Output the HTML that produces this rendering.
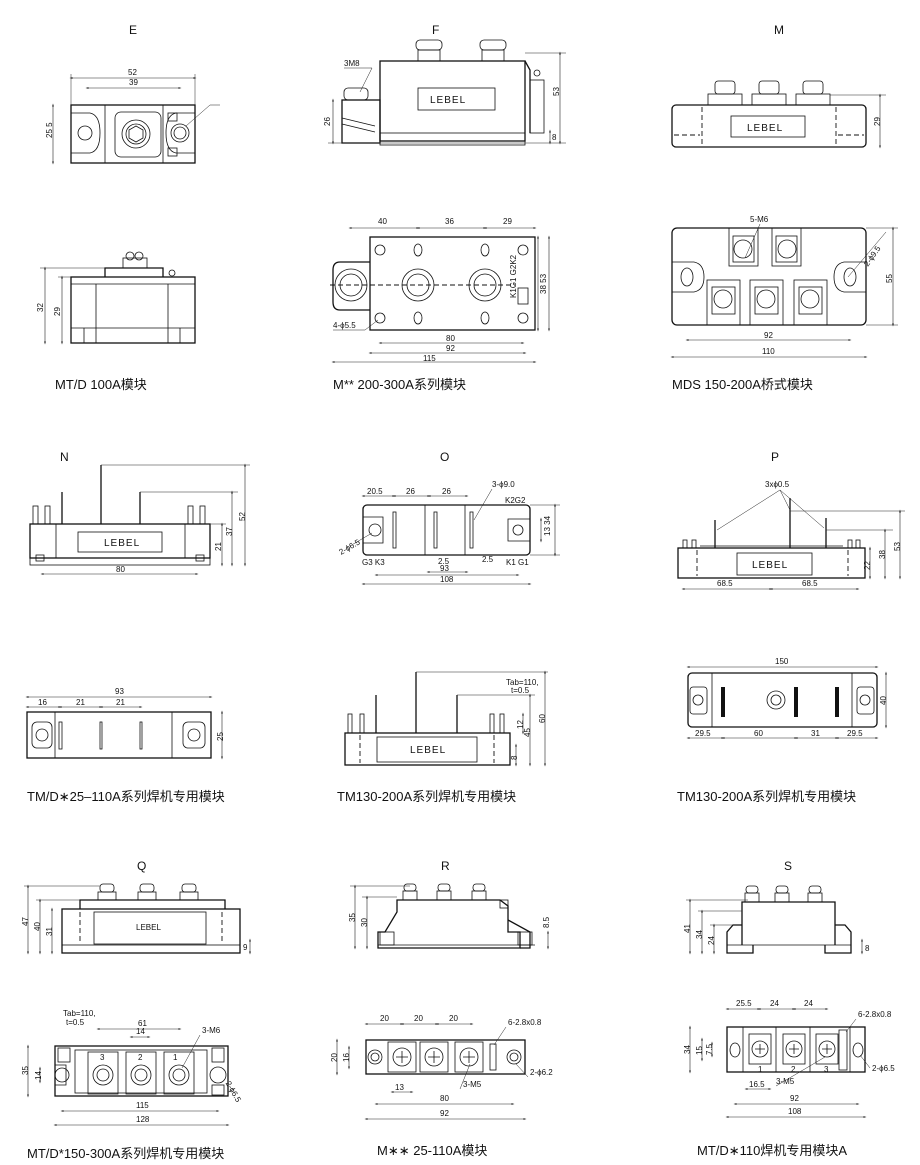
<!DOCTYPE html>
<html><head><meta charset="utf-8"><style>
html,body{margin:0;padding:0;background:#fff}
svg{display:block}
.b{fill:none;stroke:#111;stroke-width:1.3}
.t{fill:none;stroke:#111;stroke-width:0.8}
.d{stroke:#222;stroke-width:0.6;fill:none;marker-start:url(#a);marker-end:url(#a)}
.e{stroke:#222;stroke-width:0.5;fill:none}
.dash{stroke:#111;stroke-width:0.9;stroke-dasharray:5 3;fill:none}
text{font-family:"Liberation Sans","Noto Sans CJK SC",sans-serif;fill:#111}
.s{font-size:8px}
.l{font-size:12px}
.c{font-size:13px}
.g{font-size:10px;letter-spacing:1px}
</style></head><body>
<svg width="920" height="1165" viewBox="0 0 920 1165" xmlns="http://www.w3.org/2000/svg">
<defs><marker id="a" viewBox="0 0 10 10" refX="5" refY="5" markerWidth="5" markerHeight="5" orient="auto-start-reverse"><path d="M0,2 L10,5 L0,8z" fill="#222"/></marker></defs>

<!-- ===== E ===== -->
<text class="l" x="129" y="34">E</text>
<rect class="b" x="71" y="105" width="124" height="58"/>
<line class="t" x1="105" y1="105" x2="105" y2="163"/><line class="t" x1="163" y1="105" x2="163" y2="163"/>
<path class="t" d="M71,113 H90 Q100,115 100,133 Q100,151 90,153 H71"/>
<circle class="t" cx="85" cy="133" r="7"/>
<path class="t" d="M195,113 H176 Q166,115 166,133 Q166,151 176,153 H195"/>
<circle class="t" cx="180" cy="133" r="9"/><circle class="t" cx="180" cy="133" r="6"/>
<rect class="t" x="115" y="112" width="46" height="45" rx="6"/>
<circle class="t" cx="136" cy="134" r="14"/><circle class="t" cx="136" cy="134" r="10"/>
<polygon class="t" points="136,126 143,130 143,138 136,142 129,138 129,130"/>
<rect class="t" x="168" y="113" width="9" height="8"/><rect class="t" x="168" y="148" width="9" height="8"/>
<line class="d" x1="71" y1="78" x2="195" y2="78"/><text class="s" x="128" y="75">52</text>
<line class="d" x1="87" y1="88" x2="180" y2="88"/><text class="s" x="129" y="85">39</text>
<line class="e" x1="71" y1="74" x2="71" y2="105"/><line class="e" x1="195" y1="74" x2="195" y2="105"/>
<line class="d" x1="53" y1="105" x2="53" y2="163"/><text class="s" x="42" y="140" transform="rotate(-90 46 134)">25 5</text>
<line class="e" x1="186" y1="126" x2="210" y2="105"/><line class="e" x1="210" y1="105" x2="220" y2="105"/>
<!-- E bottom -->
<rect class="b" x="71" y="277" width="124" height="66"/>
<path class="b" d="M105,277 V268 H163 V277"/>
<rect class="t" x="123" y="258" width="24" height="10"/><circle class="t" cx="130" cy="256" r="4"/><circle class="t" cx="139" cy="256" r="4"/>
<circle class="t" cx="172" cy="273" r="3"/>
<line class="t" x1="71" y1="284" x2="195" y2="284"/>
<line class="t" x1="96" y1="284" x2="96" y2="343"/><line class="t" x1="168" y1="284" x2="168" y2="343"/>
<line class="t" x1="71" y1="328" x2="195" y2="328"/>
<line class="t" x1="84" y1="328" x2="84" y2="343"/><line class="t" x1="180" y1="328" x2="180" y2="343"/>
<line class="d" x1="45" y1="268" x2="45" y2="343"/><text class="s" x="33" y="308" transform="rotate(-90 40 305)">32</text>
<line class="d" x1="62" y1="277" x2="62" y2="343"/><text class="s" x="52" y="312" transform="rotate(-90 58 310)">29</text>
<line class="e" x1="40" y1="268" x2="105" y2="268"/><line class="e" x1="58" y1="277" x2="71" y2="277"/>
<text class="c" x="55" y="389">MT/D  100A模块</text>

<!-- ===== F ===== -->
<text class="l" x="432" y="34">F</text>
<rect class="b" x="380" y="61" width="145" height="80"/>
<path class="b" d="M525,61 L530,70 V133"/>
<rect class="t" x="530" y="80" width="14" height="53"/><circle class="t" cx="537" cy="73" r="3"/>
<rect class="b" x="342" y="100" width="38" height="43"/>
<path class="t" d="M342,118 L375,126 M342,124 L375,132"/>
<rect class="t" x="380" y="133" width="145" height="12"/>
<rect class="t" x="418" y="88" width="77" height="22"/><text class="g" x="430" y="103">LEBEL</text>
<rect class="t" x="418" y="50" width="22" height="11"/><rect class="t" x="482" y="50" width="22" height="11"/>
<rect class="t" x="416" y="40" width="26" height="10" rx="4"/><rect class="t" x="480" y="40" width="26" height="10" rx="4"/>
<rect class="t" x="344" y="88" width="24" height="12" rx="4"/>
<text class="s" x="344" y="66">3M8</text><line class="e" x1="344" y1="68" x2="372" y2="68"/><line class="e" x1="372" y1="68" x2="360" y2="92"/>
<line class="d" x1="560" y1="53" x2="560" y2="143"/><line class="e" x1="525" y1="53" x2="566" y2="53"/><text class="s" x="550" y="93" transform="rotate(-90 556 90)">53</text>
<line class="d" x1="550" y1="131" x2="550" y2="143"/><text class="s" x="552" y="140">8</text>
<line class="d" x1="333" y1="100" x2="333" y2="143"/><text class="s" x="322" y="124" transform="rotate(-90 327 121)">26</text>
<line class="e" x1="328" y1="143" x2="566" y2="143"/>
<!-- F bottom -->
<rect class="b" x="370" y="237" width="165" height="93"/>
<path class="b" d="M370,262 H340 Q333,262 333,270 V302 Q333,310 340,310 H370"/>
<path class="t" d="M370,237 V262 M370,310 V330"/>
<circle class="t" cx="351" cy="285" r="16"/><circle class="t" cx="351" cy="285" r="11"/>
<circle class="t" cx="418" cy="285" r="16"/><circle class="t" cx="418" cy="285" r="11"/>
<circle class="t" cx="485" cy="285" r="16"/><circle class="t" cx="485" cy="285" r="11"/>
<circle class="t" cx="380" cy="250" r="5"/><circle class="t" cx="380" cy="318" r="5"/>
<circle class="t" cx="523" cy="250" r="5"/><circle class="t" cx="523" cy="318" r="5"/>
<ellipse class="t" cx="418" cy="250" rx="4" ry="6"/><ellipse class="t" cx="418" cy="318" rx="4" ry="6"/>
<ellipse class="t" cx="485" cy="250" rx="4" ry="6"/><ellipse class="t" cx="485" cy="318" rx="4" ry="6"/>
<line class="dash" x1="330" y1="285" x2="515" y2="285"/>
<rect class="t" x="518" y="288" width="10" height="16"/>
<text class="s" x="498" y="300" transform="rotate(-90 506 290)">K1G1  G2K2</text>
<line class="d" x1="350" y1="228" x2="418" y2="228"/><text class="s" x="378" y="224">40</text>
<line class="d" x1="418" y1="228" x2="485" y2="228"/><text class="s" x="445" y="224">36</text>
<line class="d" x1="485" y1="228" x2="535" y2="228"/><text class="s" x="503" y="224">29</text>
<line class="d" x1="380" y1="343" x2="523" y2="343"/><text class="s" x="446" y="341">80</text>
<line class="d" x1="370" y1="353" x2="525" y2="353"/><text class="s" x="446" y="351">92</text>
<line class="d" x1="333" y1="362" x2="535" y2="362"/><text class="s" x="423" y="361">115</text>
<line class="d" x1="538" y1="237" x2="538" y2="330"/><line class="d" x1="549" y1="237" x2="549" y2="330"/>
<text class="s" x="530" y="290" transform="rotate(-90 540 284)">38 53</text>
<text class="s" x="333" y="328">4-ϕ5.5</text><line class="e" x1="333" y1="330" x2="365" y2="330"/><line class="e" x1="365" y1="330" x2="378" y2="320"/>
<text class="c" x="333" y="389">M**  200-300A系列模块</text>

<!-- ===== M ===== -->
<text class="l" x="774" y="34">M</text>
<rect class="b" x="672" y="105" width="194" height="42" rx="4"/>
<rect class="t" x="731" y="116" width="74" height="21"/><text class="g" x="747" y="131">LEBEL</text>
<rect class="t" x="708" y="94" width="34" height="11"/><rect class="t" x="752" y="94" width="34" height="11"/><rect class="t" x="796" y="94" width="34" height="11"/>
<rect class="t" x="715" y="81" width="20" height="13" rx="3"/><rect class="t" x="759" y="81" width="20" height="13" rx="3"/><rect class="t" x="803" y="81" width="20" height="13" rx="3"/>
<line class="dash" x1="702" y1="107" x2="702" y2="145"/><line class="dash" x1="836" y1="107" x2="836" y2="145"/>
<line class="dash" x1="674" y1="135" x2="700" y2="135"/><line class="dash" x1="838" y1="135" x2="864" y2="135"/>
<line class="d" x1="880" y1="95" x2="880" y2="147"/><text class="s" x="872" y="124" transform="rotate(-90 877 121)">29</text>
<line class="e" x1="830" y1="95" x2="886" y2="95"/>
<!-- MDS -->
<rect class="b" x="672" y="228" width="194" height="97" rx="5"/>
<path class="t" d="M672,262 H694 Q704,264 704,277 Q704,290 694,292 H672"/>
<path class="t" d="M866,262 H844 Q834,264 834,277 Q834,290 844,292 H866"/>
<ellipse class="t" cx="687" cy="277" rx="6" ry="9"/><ellipse class="t" cx="850" cy="277" rx="6" ry="9"/>
<g>
<rect class="t" x="729" y="228" width="29" height="38"/><rect class="t" x="733" y="236" width="21" height="26"/><circle class="t" cx="743" cy="249" r="9"/>
<rect class="t" x="772" y="228" width="29" height="38"/><rect class="t" x="776" y="236" width="21" height="26"/><circle class="t" cx="787" cy="249" r="9"/>
<rect class="t" x="707" y="280" width="33" height="45"/><rect class="t" x="712" y="287" width="23" height="27"/><circle class="t" cx="723" cy="299" r="9"/>
<rect class="t" x="750" y="280" width="33" height="45"/><rect class="t" x="755" y="287" width="23" height="27"/><circle class="t" cx="766" cy="299" r="9"/>
<rect class="t" x="794" y="280" width="33" height="45"/><rect class="t" x="799" y="287" width="23" height="27"/><circle class="t" cx="810" cy="299" r="9"/>
</g>
<text class="s" x="750" y="222">5-M6</text><line class="e" x1="760" y1="224" x2="745" y2="258"/>
<text class="s" x="858" y="268" transform="rotate(-55 862 258)">2-ϕ9.5</text><line class="e" x1="848" y1="277" x2="886" y2="232"/>
<line class="d" x1="893" y1="228" x2="893" y2="325"/><text class="s" x="883" y="280" transform="rotate(-90 889 277)">55</text>
<line class="e" x1="866" y1="228" x2="898" y2="228"/><line class="e" x1="866" y1="325" x2="898" y2="325"/>
<line class="d" x1="687" y1="340" x2="850" y2="340"/><text class="s" x="764" y="338">92</text>
<line class="d" x1="672" y1="357" x2="866" y2="357"/><text class="s" x="762" y="354">110</text>
<text class="c" x="672" y="389">MDS  150-200A桥式模块</text>

<!-- ===== N ===== -->
<text class="l" x="60" y="461">N</text>
<rect class="b" x="30" y="524" width="180" height="34"/>
<line class="t" x1="56" y1="524" x2="56" y2="558"/><line class="t" x1="185" y1="524" x2="185" y2="558"/>
<rect class="t" x="30" y="558" width="180" height="7"/>
<rect class="t" x="36" y="555" width="8" height="6"/><rect class="t" x="196" y="555" width="8" height="6"/>
<rect class="t" x="78" y="532" width="84" height="20"/><text class="g" x="104" y="546">LEBEL</text>
<line class="b" x1="101" y1="465" x2="101" y2="524"/><line class="b" x1="62" y1="492" x2="62" y2="524"/><line class="b" x1="140" y1="492" x2="140" y2="524"/>
<rect class="t" x="33" y="506" width="5" height="18"/><rect class="t" x="45" y="506" width="5" height="18"/>
<rect class="t" x="188" y="506" width="5" height="18"/><rect class="t" x="200" y="506" width="5" height="18"/>
<line class="e" x1="101" y1="465" x2="250" y2="465"/><line class="e" x1="140" y1="492" x2="238" y2="492"/><line class="e" x1="205" y1="524" x2="226" y2="524"/>
<line class="d" x1="222" y1="524" x2="222" y2="565"/><text class="s" x="212" y="548" transform="rotate(-90 218 545)">21</text>
<line class="d" x1="232" y1="492" x2="232" y2="565"/><text class="s" x="223" y="533" transform="rotate(-90 229 530)">37</text>
<line class="d" x1="245" y1="465" x2="245" y2="565"/><text class="s" x="236" y="518" transform="rotate(-90 242 515)">52</text>
<line class="d" x1="42" y1="574" x2="197" y2="574"/><text class="s" x="116" y="572">80</text>

<!-- ===== O ===== -->
<text class="l" x="440" y="461">O</text>
<rect class="b" x="363" y="505" width="167" height="50" rx="4"/>
<path class="t" d="M363,517 H383 V543 H363"/><circle class="t" cx="375" cy="530" r="6"/>
<path class="t" d="M530,519 H508 V541 H530"/><circle class="t" cx="518" cy="530" r="5"/>
<rect class="t" x="393" y="512" width="3" height="36" fill="#111"/><rect class="t" x="434" y="512" width="3" height="36" fill="#111"/><rect class="t" x="470" y="512" width="3" height="36" fill="#111"/>
<line class="t" x1="425" y1="505" x2="425" y2="555"/><line class="t" x1="465" y1="505" x2="465" y2="555"/>
<line class="d" x1="363" y1="496" x2="394" y2="496"/><text class="s" x="367" y="494">20.5</text>
<line class="d" x1="394" y1="496" x2="429" y2="496"/><text class="s" x="406" y="494">26</text>
<line class="d" x1="429" y1="496" x2="467" y2="496"/><text class="s" x="442" y="494">26</text>
<text class="s" x="492" y="487">3-ϕ9.0</text><line class="e" x1="492" y1="489" x2="474" y2="520"/>
<text class="s" x="505" y="503">K2G2</text><text class="s" x="362" y="565">G3 K3</text><text class="s" x="506" y="565">K1 G1</text>
<text class="s" x="338" y="552" transform="rotate(-30 345 548)">2-ϕ6.5</text><line class="e" x1="350" y1="546" x2="372" y2="533"/>
<text class="s" x="438" y="564">2.5</text><text class="s" x="482" y="562">2.5</text>
<line class="d" x1="428" y1="572" x2="467" y2="572"/><text class="s" x="440" y="571">93</text>
<line class="d" x1="376" y1="575" x2="518" y2="575"/>
<line class="d" x1="363" y1="584" x2="530" y2="584"/><text class="s" x="440" y="582">108</text>
<line class="d" x1="555" y1="505" x2="555" y2="555"/><line class="d" x1="541" y1="519" x2="541" y2="541"/>
<text class="s" x="540" y="534" transform="rotate(-90 546 530)">13 34</text>
<line class="e" x1="530" y1="505" x2="560" y2="505"/><line class="e" x1="530" y1="555" x2="560" y2="555"/>

<!-- ===== P ===== -->
<text class="l" x="771" y="461">P</text>
<rect class="b" x="678" y="548" width="187" height="30"/>
<rect class="t" x="737" y="553" width="75" height="22"/><text class="g" x="752" y="568">LEBEL</text>
<line class="dash" x1="697" y1="550" x2="697" y2="576"/><line class="dash" x1="848" y1="550" x2="848" y2="576"/>
<line class="b" x1="715" y1="520" x2="715" y2="548"/><line class="b" x1="790" y1="498" x2="790" y2="548"/><line class="b" x1="826" y1="518" x2="826" y2="548"/>
<rect class="t" x="683" y="540" width="4" height="8"/><rect class="t" x="692" y="540" width="4" height="8"/>
<rect class="t" x="848" y="540" width="4" height="8"/><rect class="t" x="856" y="540" width="4" height="8"/>
<line class="t" x1="700" y1="546" x2="843" y2="546"/>
<text class="s" x="765" y="487">3xϕ0.5</text>
<line class="e" x1="780" y1="490" x2="717" y2="530"/><line class="e" x1="780" y1="490" x2="790" y2="510"/><line class="e" x1="780" y1="490" x2="824" y2="528"/>
<line class="e" x1="790" y1="511" x2="905" y2="511"/><line class="e" x1="826" y1="530" x2="893" y2="530"/>
<line class="d" x1="870" y1="548" x2="870" y2="578"/><text class="s" x="861" y="567" transform="rotate(-90 867 564)">22</text>
<line class="d" x1="885" y1="530" x2="885" y2="578"/><text class="s" x="876" y="556" transform="rotate(-90 882 553)">38</text>
<line class="d" x1="900" y1="511" x2="900" y2="578"/><text class="s" x="891" y="548" transform="rotate(-90 897 545)">53</text>
<line class="d" x1="683" y1="589" x2="771" y2="589"/><text class="s" x="717" y="586">68.5</text>
<line class="d" x1="771" y1="589" x2="858" y2="589"/><text class="s" x="802" y="586">68.5</text>

<!-- ===== TM/D top ===== -->
<rect class="b" x="27" y="712" width="184" height="46"/>
<line class="t" x1="55" y1="712" x2="55" y2="758"/><line class="t" x1="172" y1="712" x2="172" y2="758"/>
<rect class="t" x="32" y="722" width="20" height="26" rx="5"/><circle class="t" cx="42" cy="735" r="6"/>
<rect class="t" x="183" y="722" width="22" height="26" rx="5"/><circle class="t" cx="194" cy="735" r="6"/>
<rect class="t" x="59" y="722" width="3" height="27" fill="#111"/><rect class="t" x="100" y="722" width="2" height="27" fill="#111"/><rect class="t" x="140" y="722" width="2" height="27" fill="#111"/>
<line class="d" x1="27" y1="697" x2="211" y2="697"/><text class="s" x="115" y="694">93</text>
<line class="d" x1="27" y1="707" x2="60" y2="707"/><text class="s" x="38" y="705">16</text>
<line class="d" x1="60" y1="707" x2="101" y2="707"/><text class="s" x="76" y="705">21</text>
<line class="d" x1="101" y1="707" x2="141" y2="707"/><text class="s" x="116" y="705">21</text>
<line class="d" x1="222" y1="712" x2="222" y2="758"/><text class="s" x="214" y="738" transform="rotate(-90 220 735)">25</text>
<text class="c" x="27" y="801">TM/D∗25–110A系列焊机专用模块</text>

<!-- ===== TM130 side ===== -->
<rect class="b" x="345" y="733" width="165" height="32"/>
<rect class="t" x="377" y="737" width="100" height="25"/><text class="g" x="410" y="753">LEBEL</text>
<line class="dash" x1="360" y1="735" x2="360" y2="763"/><line class="dash" x1="494" y1="735" x2="494" y2="763"/>
<line class="b" x1="416" y1="672" x2="416" y2="733"/><line class="b" x1="376" y1="695" x2="376" y2="733"/><line class="b" x1="457" y1="695" x2="457" y2="733"/>
<rect class="t" x="348" y="714" width="4" height="19"/><rect class="t" x="360" y="714" width="4" height="19"/>
<rect class="t" x="490" y="714" width="4" height="19"/><rect class="t" x="500" y="714" width="4" height="19"/>
<line class="e" x1="416" y1="672" x2="548" y2="672"/><line class="e" x1="457" y1="695" x2="535" y2="695"/>
<text class="s" x="506" y="685">Tab=110,</text><text class="s" x="511" y="693">t=0.5</text>
<line class="d" x1="523" y1="714" x2="523" y2="733"/><text class="s" x="515" y="727" transform="rotate(-90 520 724)">12</text>
<line class="d" x1="530" y1="695" x2="530" y2="765"/><text class="s" x="522" y="735" transform="rotate(-90 527 732)">45</text>
<line class="d" x1="545" y1="672" x2="545" y2="765"/><text class="s" x="537" y="721" transform="rotate(-90 542 718)">60</text>
<line class="d" x1="516" y1="745" x2="516" y2="765"/><text class="s" x="509" y="758" transform="rotate(-90 514 755)">8</text>
<text class="c" x="337" y="801">TM130-200A系列焊机专用模块</text>

<!-- ===== TM130 top ===== -->
<rect class="b" x="688" y="673" width="189" height="54" rx="4"/>
<line class="t" x1="712" y1="673" x2="712" y2="727"/><line class="t" x1="852" y1="673" x2="852" y2="727"/>
<rect class="t" x="690" y="687" width="17" height="27" rx="3"/><circle class="t" cx="698" cy="700" r="5"/>
<rect class="t" x="857" y="687" width="17" height="27" rx="3"/><circle class="t" cx="865" cy="700" r="5"/>
<circle class="t" cx="776" cy="700" r="9"/><circle class="t" cx="776" cy="700" r="5"/>
<rect x="721" y="687" width="4" height="30" fill="#111"/><rect x="794" y="687" width="4" height="30" fill="#111"/><rect x="835" y="687" width="4" height="30" fill="#111"/>
<line class="d" x1="688" y1="667" x2="877" y2="667"/><text class="s" x="775" y="664">150</text>
<line class="d" x1="688" y1="738" x2="723" y2="738"/><text class="s" x="695" y="736">29.5</text>
<line class="d" x1="723" y1="738" x2="796" y2="738"/><text class="s" x="754" y="736">60</text>
<line class="d" x1="796" y1="738" x2="837" y2="738"/><text class="s" x="811" y="736">31</text>
<line class="d" x1="837" y1="738" x2="877" y2="738"/><text class="s" x="847" y="736">29.5</text>
<line class="d" x1="886" y1="673" x2="886" y2="727"/><text class="s" x="878" y="703" transform="rotate(-90 883 700)">40</text>
<text class="c" x="677" y="801">TM130-200A系列焊机专用模块</text>

<!-- ===== Q ===== -->
<text class="l" x="137" y="870">Q</text>
<rect class="b" x="62" y="909" width="178" height="44"/>
<path class="b" d="M80,909 V900 H225 V909"/>
<rect class="t" x="94" y="912" width="112" height="32"/><text class="s" x="136" y="930">LEBEL</text>
<rect class="t" x="62" y="945" width="178" height="8"/>
<rect class="t" x="98" y="892" width="18" height="8"/><rect class="t" x="138" y="892" width="18" height="8"/><rect class="t" x="180" y="892" width="18" height="8"/>
<rect class="t" x="100" y="884" width="14" height="8" rx="3"/><rect class="t" x="140" y="884" width="14" height="8" rx="3"/><rect class="t" x="182" y="884" width="14" height="8" rx="3"/>
<line class="dash" x1="80" y1="912" x2="80" y2="942"/><line class="dash" x1="222" y1="912" x2="222" y2="942"/>
<line class="d" x1="28" y1="886" x2="28" y2="953"/><text class="s" x="20" y="924" transform="rotate(-90 25 921)">47</text>
<line class="d" x1="40" y1="900" x2="40" y2="953"/><text class="s" x="32" y="929" transform="rotate(-90 37 926)">40</text>
<line class="d" x1="52" y1="909" x2="52" y2="953"/><text class="s" x="44" y="934" transform="rotate(-90 49 931)">31</text>
<line class="e" x1="24" y1="886" x2="100" y2="886"/><line class="e" x1="36" y1="900" x2="80" y2="900"/>
<line class="d" x1="250" y1="940" x2="250" y2="953"/><text class="s" x="243" y="950">9</text>
<!-- Q bottom -->
<rect class="b" x="55" y="1046" width="173" height="50"/>
<rect class="t" x="75" y="1050" width="132" height="43"/>
<path class="t" d="M55,1065 H66 V1085 H55"/><circle class="t" cx="62" cy="1075" r="7"/>
<circle class="t" cx="218" cy="1075" r="8"/>
<rect class="t" x="58" y="1048" width="12" height="14"/><rect class="t" x="212" y="1048" width="12" height="14"/><rect class="t" x="212" y="1085" width="12" height="10"/>
<rect class="t" x="88" y="1052" width="30" height="42"/><circle class="t" cx="103" cy="1075" r="10"/><circle class="t" cx="103" cy="1075" r="6"/>
<rect class="t" x="126" y="1052" width="30" height="42"/><circle class="t" cx="141" cy="1075" r="10"/><circle class="t" cx="141" cy="1075" r="6"/>
<rect class="t" x="164" y="1052" width="30" height="42"/><circle class="t" cx="179" cy="1075" r="10"/><circle class="t" cx="179" cy="1075" r="6"/>
<text class="s" x="100" y="1060">3</text><text class="s" x="138" y="1060">2</text><text class="s" x="173" y="1060">1</text>
<text class="s" x="63" y="1016">Tab=110,</text><text class="s" x="66" y="1025">t=0.5</text>
<line class="d" x1="98" y1="1029" x2="180" y2="1029"/><text class="s" x="138" y="1026">61</text>
<line class="d" x1="131" y1="1037" x2="149" y2="1037"/><text class="s" x="136" y="1034">14</text>
<text class="s" x="202" y="1033">3-M6</text><line class="e" x1="200" y1="1035" x2="182" y2="1068"/>
<text class="s" x="226" y="1088" transform="rotate(60 230 1085)">2-ϕ6.5</text>
<line class="d" x1="62" y1="1111" x2="218" y2="1111"/><text class="s" x="136" y="1108">115</text>
<line class="d" x1="55" y1="1125" x2="228" y2="1125"/><text class="s" x="136" y="1122">128</text>
<line class="d" x1="28" y1="1046" x2="28" y2="1096"/><text class="s" x="20" y="1073" transform="rotate(-90 25 1070)">35</text>
<line class="d" x1="40" y1="1068" x2="40" y2="1082"/><text class="s" x="33" y="1080" transform="rotate(-90 37 1076)">14</text>
<text class="c" x="27" y="1158">MT/D*150-300A系列焊机专用模块</text>

<!-- ===== R ===== -->
<text class="l" x="441" y="870">R</text>
<path class="b" d="M397,900 H500 L508,906 V932 L520,932 V948 H378 V932 H385 L397,912 Z"/>
<line class="t" x1="378" y1="945" x2="535" y2="945"/>
<path class="b" d="M508,920 L530,932 V948 H520"/>
<rect class="t" x="380" y="932" width="14" height="13"/><rect class="t" x="518" y="932" width="14" height="13"/>
<rect class="t" x="403" y="891" width="14" height="9"/><rect class="t" x="437" y="891" width="14" height="9"/><rect class="t" x="472" y="891" width="14" height="9"/>
<rect class="t" x="404" y="884" width="12" height="7" rx="3"/><rect class="t" x="438" y="884" width="12" height="7" rx="3"/><rect class="t" x="473" y="884" width="12" height="7" rx="3"/>
<rect class="t" x="500" y="900" width="8" height="8"/>
<line class="d" x1="355" y1="886" x2="355" y2="948"/><text class="s" x="347" y="920" transform="rotate(-90 352 917)">35</text>
<line class="d" x1="367" y1="897" x2="367" y2="948"/><text class="s" x="359" y="925" transform="rotate(-90 364 922)">30</text>
<line class="e" x1="350" y1="886" x2="410" y2="886"/><line class="e" x1="362" y1="897" x2="397" y2="897"/>
<line class="d" x1="548" y1="932" x2="548" y2="948"/><text class="s" x="540" y="925" transform="rotate(-90 546 922)">8.5</text>
<!-- R bottom -->
<rect class="b" x="366" y="1040" width="159" height="34"/>
<circle class="t" cx="375" cy="1057" r="7"/><circle class="t" cx="375" cy="1057" r="4"/>
<circle class="t" cx="514" cy="1057" r="7"/><circle class="t" cx="514" cy="1057" r="4"/>
<rect class="t" x="388" y="1042" width="28" height="30"/><circle class="t" cx="402" cy="1057" r="9"/><path class="t" d="M396,1057 H408 M402,1051 V1063"/>
<rect class="t" x="420" y="1042" width="28" height="30"/><circle class="t" cx="434" cy="1057" r="9"/><path class="t" d="M428,1057 H440 M434,1051 V1063"/>
<rect class="t" x="455" y="1042" width="28" height="30"/><circle class="t" cx="469" cy="1057" r="9"/><path class="t" d="M463,1057 H475 M469,1051 V1063"/>
<rect class="t" x="490" y="1044" width="6" height="26"/>
<line class="d" x1="366" y1="1024" x2="402" y2="1024"/><text class="s" x="380" y="1021">20</text>
<line class="d" x1="402" y1="1024" x2="437" y2="1024"/><text class="s" x="414" y="1021">20</text>
<line class="d" x1="437" y1="1024" x2="472" y2="1024"/><text class="s" x="449" y="1021">20</text>
<text class="s" x="508" y="1025">6-2.8x0.8</text><line class="e" x1="506" y1="1027" x2="494" y2="1045"/>
<text class="s" x="530" y="1075">2-ϕ6.2</text><line class="e" x1="528" y1="1077" x2="516" y2="1064"/>
<text class="s" x="463" y="1087">3-M5</text><line class="e" x1="460" y1="1089" x2="470" y2="1064"/>
<line class="d" x1="392" y1="1092" x2="412" y2="1092"/><text class="s" x="395" y="1090">13</text>
<line class="d" x1="376" y1="1104" x2="513" y2="1104"/><text class="s" x="440" y="1101">80</text>
<line class="d" x1="366" y1="1119" x2="525" y2="1119"/><text class="s" x="440" y="1116">92</text>
<line class="d" x1="337" y1="1040" x2="337" y2="1074"/><text class="s" x="329" y="1060" transform="rotate(-90 334 1057)">20</text>
<line class="d" x1="349" y1="1047" x2="349" y2="1068"/><text class="s" x="341" y="1060" transform="rotate(-90 346 1057)">16</text>
<text class="c" x="377" y="1155">M∗∗  25-110A模块</text>

<!-- ===== S ===== -->
<text class="l" x="784" y="870">S</text>
<path class="b" d="M742,945 V902 H835 V945"/>
<path class="b" d="M742,925 H733 L727,932 V953 H753 V945 M835,925 H845 L851,932 V953 H825 V945"/>
<line class="t" x1="727" y1="945" x2="851" y2="945"/>
<rect class="t" x="745" y="893" width="14" height="9"/><rect class="t" x="775" y="893" width="14" height="9"/><rect class="t" x="808" y="893" width="14" height="9"/>
<rect class="t" x="746" y="886" width="12" height="7" rx="3"/><rect class="t" x="776" y="886" width="12" height="7" rx="3"/><rect class="t" x="809" y="886" width="12" height="7" rx="3"/>
<line class="d" x1="690" y1="900" x2="690" y2="953"/><text class="s" x="682" y="931" transform="rotate(-90 687 928)">41</text>
<line class="d" x1="702" y1="911" x2="702" y2="953"/><text class="s" x="694" y="937" transform="rotate(-90 699 934)">34</text>
<line class="d" x1="714" y1="925" x2="714" y2="953"/><text class="s" x="706" y="943" transform="rotate(-90 711 940)">24</text>
<line class="e" x1="686" y1="900" x2="748" y2="900"/><line class="e" x1="698" y1="911" x2="742" y2="911"/><line class="e" x1="710" y1="925" x2="733" y2="925"/>
<line class="d" x1="862" y1="940" x2="862" y2="953"/><text class="s" x="865" y="951">8</text>
<!-- S bottom -->
<rect class="b" x="727" y="1027" width="138" height="45"/>
<line class="t" x1="743" y1="1027" x2="743" y2="1072"/><line class="t" x1="776" y1="1027" x2="776" y2="1072"/><line class="t" x1="810" y1="1027" x2="810" y2="1072"/><line class="t" x1="850" y1="1027" x2="850" y2="1072"/>
<ellipse class="t" cx="735" cy="1050" rx="5" ry="7"/><ellipse class="t" cx="858" cy="1050" rx="5" ry="7"/>
<rect class="t" x="749" y="1034" width="22" height="30"/><circle class="t" cx="760" cy="1049" r="8"/><path class="t" d="M755,1049 H765 M760,1044 V1054"/>
<rect class="t" x="783" y="1034" width="22" height="30"/><circle class="t" cx="794" cy="1049" r="8"/><path class="t" d="M789,1049 H799 M794,1044 V1054"/>
<rect class="t" x="816" y="1034" width="22" height="30"/><circle class="t" cx="827" cy="1049" r="8"/><path class="t" d="M822,1049 H832 M827,1044 V1054"/>
<rect class="t" x="839" y="1030" width="8" height="40"/>
<text class="s" x="758" y="1072">1</text><text class="s" x="791" y="1072">2</text><text class="s" x="824" y="1072">3</text>
<line class="d" x1="727" y1="1009" x2="759" y2="1009"/><text class="s" x="736" y="1006">25.5</text>
<line class="d" x1="759" y1="1009" x2="794" y2="1009"/><text class="s" x="770" y="1006">24</text>
<line class="d" x1="794" y1="1009" x2="827" y2="1009"/><text class="s" x="804" y="1006">24</text>
<text class="s" x="858" y="1017">6-2.8x0.8</text><line class="e" x1="856" y1="1019" x2="846" y2="1032"/>
<text class="s" x="872" y="1071">2-ϕ6.5</text><line class="e" x1="870" y1="1068" x2="860" y2="1055"/>
<text class="s" x="776" y="1084">3-M5</text><line class="e" x1="776" y1="1086" x2="825" y2="1057"/>
<line class="d" x1="746" y1="1089" x2="770" y2="1089"/><text class="s" x="749" y="1087">16.5</text>
<line class="d" x1="735" y1="1104" x2="858" y2="1104"/><text class="s" x="790" y="1101">92</text>
<line class="d" x1="727" y1="1117" x2="865" y2="1117"/><text class="s" x="788" y="1114">108</text>
<line class="d" x1="690" y1="1027" x2="690" y2="1072"/><text class="s" x="682" y="1052" transform="rotate(-90 687 1049)">34</text>
<line class="d" x1="702" y1="1039" x2="702" y2="1060"/><text class="s" x="694" y="1053" transform="rotate(-90 699 1050)">15</text>
<line class="d" x1="712" y1="1043" x2="712" y2="1056"/><text class="s" x="704" y="1053" transform="rotate(-90 709 1050)">7.5</text>
<text class="c" x="697" y="1155">MT/D∗110焊机专用模块A</text>
</svg>
</body></html>
